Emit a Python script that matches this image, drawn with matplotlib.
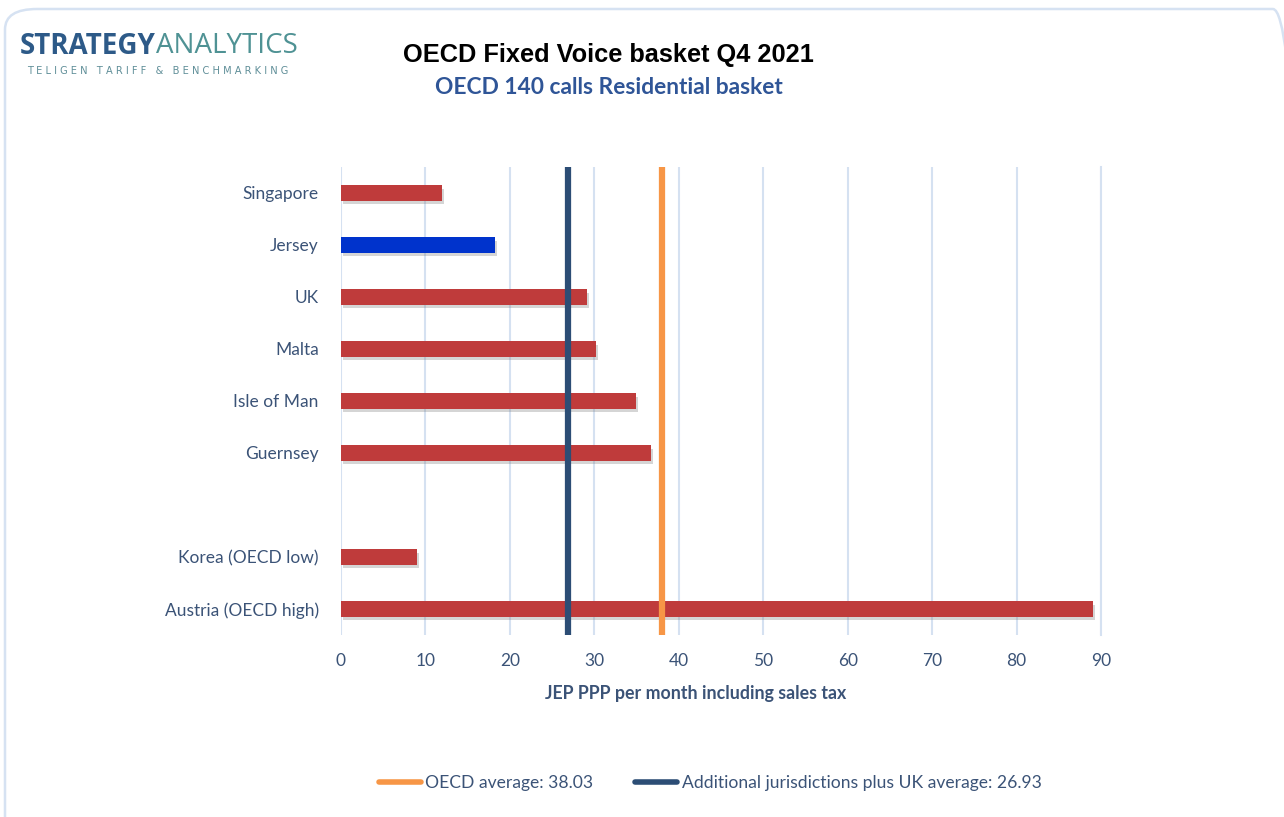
import matplotlib
matplotlib.use("Agg")
import matplotlib.pyplot as plt
from matplotlib.lines import Line2D
from matplotlib.patches import FancyBboxPatch
import matplotlib.patheffects as pe

categories = ["Singapore", "Jersey", "UK", "Malta", "Isle of Man", "Guernsey", "", "Korea (OECD low)", "Austria (OECD high)"]
values = [12.0, 18.2, 29.1, 30.2, 34.9, 36.7, None, 9.0, 89.0]
highlight = "Jersey"
oecd_avg = 38.03
add_avg = 26.93
xticks = [0, 10, 20, 30, 40, 50, 60, 70, 80, 90]

RED = "#BF3B3B"
BLUE = "#0033CC"
ORANGE = "#F79646"
NAVY = "#2C4D75"
GRID = "#D5E1F1"
TXT = "#3B5377"

plt.rcParams['font.family'] = ['Lato', 'DejaVu Sans']

W, H = 1284, 817
fig = plt.figure(figsize=(12.84, 8.17), dpi=100)

# outer rounded frame (cut off at right and bottom as in the reference)
frame = FancyBboxPatch((5/W, -30/H), 1300/W, (H - 9 + 30)/H, boxstyle="round,pad=0,rounding_size=0.025",
                       transform=fig.transFigure, fill=False, edgecolor="#D6E2F2", linewidth=1.8)
fig.patches.append(frame)

ax = fig.add_axes([341/W, 1-635/H, (1101-341)/W, (635-167)/H])
n = len(categories)
ypos = list(range(n))
for i, (c, v) in enumerate(zip(categories, values)):
    if v is None:
        continue
    col = BLUE if c == highlight else RED
    ax.barh(i, v, height=0.3, color=col, zorder=3,
            path_effects=[pe.SimplePatchShadow(offset=(1.5, -2.5), shadow_rgbFace="#777777", alpha=0.3), pe.Normal()])

ax.axvline(add_avg, color=NAVY, linewidth=4.5, zorder=4)
ax.axvline(oecd_avg, color=ORANGE, linewidth=4.5, zorder=4)

ax.set_ylim(n - 0.5, -0.5)
ax.set_xlim(0, 90)
ax.set_yticks(ypos)
ax.set_yticklabels(categories)
ax.set_xticks(xticks)
ax.set_xticklabels([str(t) for t in xticks])
ax.grid(axis='x', color=GRID, linewidth=1.5, zorder=0)
for s in ["top", "bottom", "left"]:
    ax.spines[s].set_visible(False)
ax.spines["right"].set_color(GRID)
ax.spines["right"].set_linewidth(1.5)
ax.tick_params(axis='both', length=0, colors=TXT, labelsize=12.5)
ax.tick_params(axis='y', pad=16)
ax.tick_params(axis='x', pad=13)

fig.text(696/W, 1-693/H, "JEP PPP per month including sales tax", ha="center", va="center",
         fontsize=12.8, fontweight="bold", color=TXT)

# titles
fig.text(608/W, 1-55/H, "OECD Fixed Voice basket Q4 2021", ha="center", va="center",
         fontsize=18.3, fontweight="bold", color="black", family=["Liberation Sans", "DejaVu Sans"])
fig.text(609/W, 1-87/H, "OECD 140 calls Residential basket", ha="center", va="center",
         fontsize=16.4, fontweight="bold", color="#2F5597")

# logo
t1 = fig.text(20/W, 1-46/H, "STRATEGY", ha="left", va="center", fontsize=20, fontweight="bold",
              color="#2D5A88", family=["Open Sans", "DejaVu Sans"])
fig.canvas.draw()
bb = t1.get_window_extent()
fig.text(bb.x1/W, 1-46/H, "ANALYTICS", ha="left", va="center", fontsize=20,
         color="#4F9294", family=["Open Sans", "DejaVu Sans"])
fig.text(27/W, 1-71/H, "T E L I G E N   T A R I F F   &   B E N C H M A R K I N G", ha="left", va="center",
         fontsize=7.1, color="#5F8E98", family=["DejaVu Sans"])

handles = [Line2D([0], [0], color=ORANGE, linewidth=4, solid_capstyle="round"),
           Line2D([0], [0], color=NAVY, linewidth=4, solid_capstyle="round")]
fig.legend(handles, [f"OECD average: {oecd_avg:.2f}", f"Additional jurisdictions plus UK average: {add_avg:.2f}"],
           loc="center", bbox_to_anchor=(710/W, 1-783/H), ncol=2, frameon=False,
           fontsize=12.6, labelcolor=TXT, handlelength=2.4, handletextpad=0.25, columnspacing=2.4)

fig.savefig("out.png", dpi=100)
